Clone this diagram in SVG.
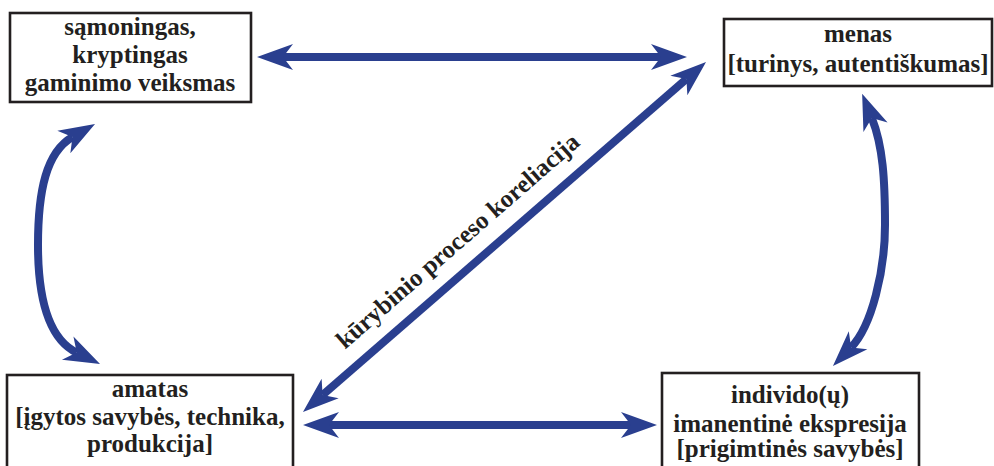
<svg xmlns="http://www.w3.org/2000/svg" width="994" height="466" viewBox="0 0 994 466">
<style>
.box{fill:#fff;stroke:#231f20;stroke-width:2.6}
.c{fill:none;stroke:#2a3f8f;stroke-width:8;marker-start:url(#ah);marker-end:url(#ah)}
.t{font-family:'Liberation Serif','DejaVu Serif',serif;font-weight:700;font-size:25px;fill:#231f20;text-anchor:middle}
</style>
<defs>
<marker id="ah" markerUnits="userSpaceOnUse" markerWidth="80" markerHeight="80" refX="0" refY="0" orient="auto-start-reverse" overflow="visible">
<path d="M-10,-13 L26,0 L-10,13 L0,0 Z" fill="#2a3f8f"/>
</marker>
</defs>
<rect width="994" height="466" fill="#fff"/>
<g id="connectors">
<path class="c" d="M283,57 L661,57"/>
<path class="c" d="M329,425 L631,425"/>
<path class="c" d="M322.6,395 L686.4,79"/>
<path class="c" d="M72.5,137 C46.5,152 38,190 38,245 C38,300 49.8,339.4 76.7,352.6"/>
<path class="c" d="M871.8,118 C883,146 885,180 885,225 C885,270 872,326 851.1,347.4"/>
<text class="t" transform="translate(463,247) rotate(-41)">kūrybinio proceso koreliacija</text>
</g>
<g id="node-samoningas">
<rect class="box" x="10" y="13" width="241" height="89"/>
<text class="t" x="130" y="35">sąmoningas,</text>
<text class="t" x="130" y="63">kryptingas</text>
<text class="t" x="130" y="91">gaminimo veiksmas</text>
</g>
<g id="node-menas">
<rect class="box" x="724" y="19" width="268" height="67"/>
<text class="t" x="858" y="42">menas</text>
<text class="t" x="858" y="72">[turinys, autentiškumas]</text>
</g>
<g id="node-amatas">
<rect class="box" x="7" y="375" width="286" height="110"/>
<text class="t" x="150" y="397">amatas</text>
<text class="t" x="150" y="425">[įgytos savybės, technika,</text>
<text class="t" x="150" y="452">produkcija]</text>
</g>
<g id="node-individo">
<rect class="box" x="662" y="373" width="257" height="110"/>
<text class="t" x="790" y="403">individo(ų)</text>
<text class="t" x="790" y="432">imanentinė ekspresija</text>
<text class="t" x="790" y="457">[prigimtinės savybės]</text>
</g>
</svg>
